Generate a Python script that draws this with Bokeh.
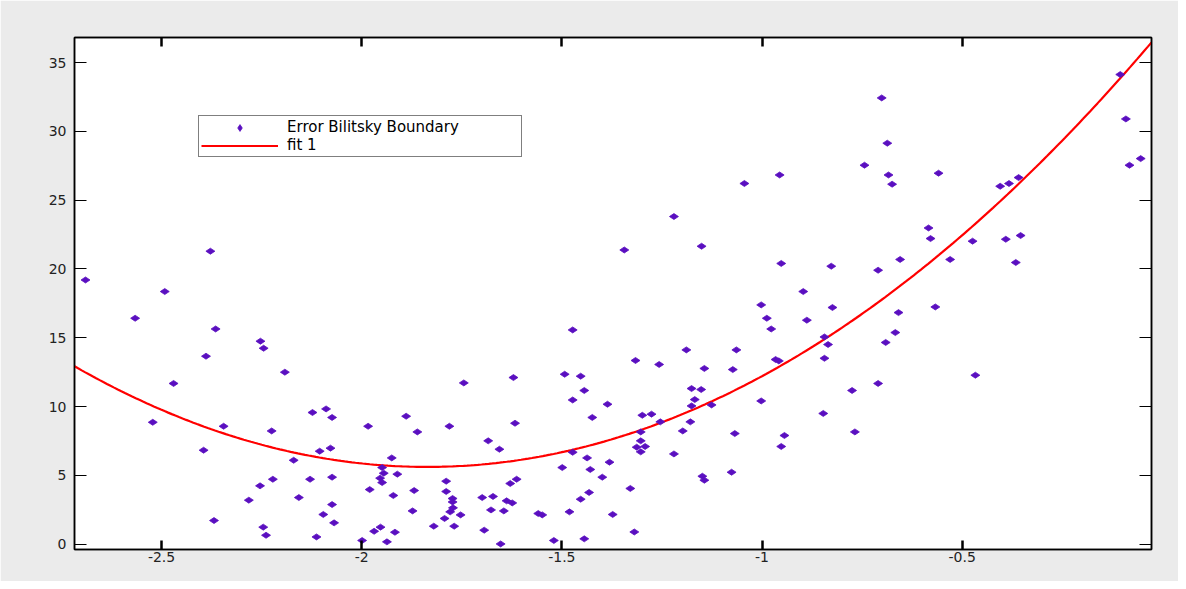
import numpy as np
from bokeh.plotting import figure
from bokeh.models import (Range1d, FixedTicker, LinearAxis, Legend, LegendItem,
                          CustomLabelingPolicy)
from bokeh.embed import file_html
from bokeh.resources import INLINE

# ---- data ----
err_x = [
    -2.690, -2.378, -2.492, -2.566, -2.365, -2.253, -2.245, -2.389, -2.192, -2.470,
    -2.089, -2.123, -2.074, -2.522, -2.345, -2.225, -2.395, -2.105, -2.078, -2.170,
    -2.222, -2.129, -2.074, -2.254, -2.157, -2.282, -2.074, -2.096, -2.069, -2.369,
    -2.246, -2.239, -2.113,
    -1.473, -1.493, -1.453, -1.621, -1.745, -1.444, -1.473, -1.386, -1.889, -1.424,
    -1.984, -1.781, -1.617, -1.861, -1.684, -1.656, -1.473, -1.925, -1.437, -1.381,
    -1.949, -1.499, -1.429, -1.945, -1.911, -1.954, -1.949, -1.613, -1.629, -1.399,
    -1.789, -1.980, -1.869, -1.789, -1.432, -1.921, -1.773, -1.773, -1.699, -1.672,
    -1.453, -1.638, -1.624, -1.772, -1.873, -1.779, -1.677, -1.645, -1.481, -1.753,
    -1.559, -1.549, -1.793, -1.820, -1.769, -1.953, -1.969, -1.917, -1.694, -1.937,
    -1.999, -1.653, -1.520, -1.444,
    -1.344, -0.952, -0.827, -0.710, -0.897, -1.002, -0.824, -0.988, -0.888, -0.977,
    -0.844, -0.835, -1.189, -1.064, -1.316, -1.257, -0.844, -0.966, -0.958, -1.144,
    -1.073, -1.176, -1.152, -0.775, -1.002, -1.168, -1.176, -1.126, -1.299, -1.276,
    -0.847, -1.254, -1.179, -1.303, -1.198, -1.068, -0.768, -0.944, -1.303, -1.313,
    -1.292, -1.303, -0.952, -1.220, -1.076, -1.149, -1.144, -1.329, -1.373, -1.319,
    -0.710,
    -0.655, -0.530, -0.366, -0.567, -0.659, -0.667, -0.691, -0.467,
    -0.701, -0.687, -0.684, -0.675, -0.559, -0.405, -0.383, -0.359, -0.584, -0.579,
    -0.474, -0.391, -0.354, -0.105, -0.091, -0.082, -0.054,
    -0.744, -0.956, -1.044, -1.220, -1.151,
]
err_y = [
    19.20, 21.29, 18.36, 16.42, 15.64, 14.75, 14.24, 13.66, 12.50, 11.68,
    9.83, 9.57, 9.21, 8.86, 8.57, 8.23, 6.83, 6.76, 6.98, 6.10,
    4.72, 4.72, 4.87, 4.24, 3.39, 3.20, 2.88, 2.16, 1.55, 1.72,
    1.24, 0.65, 0.53,
    15.57, 12.35, 12.21, 12.11, 11.72, 11.17, 10.48, 10.17, 9.30, 9.21,
    8.57, 8.57, 8.79, 8.16, 7.51, 6.90, 6.68, 6.27, 6.27, 5.96,
    5.57, 5.57, 5.43, 5.16, 5.09, 4.80, 4.48, 4.72, 4.41, 4.87,
    4.58, 3.97, 3.90, 3.83, 3.76, 3.54, 3.32, 3.07, 3.39, 3.47,
    3.27, 3.15, 3.00, 2.64, 2.42, 2.35, 2.49, 2.42, 2.35, 2.13,
    2.23, 2.13, 1.87, 1.31, 1.31, 1.24, 0.94, 0.87, 1.02, 0.17,
    0.27, 0.02, 0.27, 0.39,
    21.38, 20.40, 20.20, 19.91, 18.36, 17.39, 17.20, 16.42, 16.28, 15.64,
    15.06, 14.51, 14.12, 14.12, 13.35, 13.06, 13.51, 13.42, 13.32, 12.77,
    12.69, 11.31, 11.24, 11.17, 10.41, 10.51, 10.05, 10.12, 9.37, 9.45,
    9.50, 8.89, 8.89, 8.16, 8.23, 8.04, 8.16, 7.90, 7.51, 7.05,
    7.10, 6.71, 7.10, 6.56, 5.23, 4.94, 4.65, 4.05, 2.16, 0.89,
    11.68,
    20.69, 20.69, 20.47, 17.24, 16.83, 15.38, 14.66, 12.28,
    32.43, 29.14, 26.83, 26.16, 26.96, 26.01, 26.21, 26.64, 22.98, 22.21,
    22.02, 22.16, 22.43, 34.13, 30.90, 27.54, 28.02,
    27.54, 26.83, 26.21, 23.81, 21.65,
]
fit_coef = [9.42, 34.60, 37.39]          # fit 1: p1*x^2 + p2*x + p3
x_limits = [-2.7175, -0.027]
y_limits = [-0.385, 36.82]
x_ticks = [-2.5, -2, -1.5, -1, -0.5]
x_tick_labels = ["-2.5", "-2", "-1.5", "-1", "-0.5"]
y_ticks = [0, 5, 10, 15, 20, 25, 30, 35]
y_tick_labels = ["0", "5", "10", "15", "20", "25", "30", "35"]
series_names = ["Error Bilitsky Boundary", "fit 1"]

fit_x = np.linspace(x_limits[0], x_limits[1], 300)
fit_y = np.polyval(fit_coef, fit_x)

FONT = "DejaVu Sans"

p = figure(frame_width=1077, frame_height=512,
           x_range=Range1d(*x_limits), y_range=Range1d(*y_limits),
           output_backend="svg", toolbar_location=None,
           min_border_left=74, min_border_top=37, min_border_right=27, min_border_bottom=32)
p.background_fill_color = "white"
p.border_fill_color = "#ebebeb"
p.outline_line_color = "black"
p.outline_line_width = 1.5
p.xgrid.visible = False
p.ygrid.visible = False

fitline = p.line(fit_x, fit_y, line_color="#ff0000", line_width=2.2)
sc = p.scatter(err_x, err_y, marker="diamond", size=9, angle=np.pi / 2,
               fill_color="#5a0fc0", line_color="#5a0fc0", line_width=0.8)


def style_axis(ax, ticks, labels, tick_len, tick_w, show_labels, standoff):
    ax.ticker = FixedTicker(ticks=ticks)
    ax.major_tick_in = tick_len
    ax.major_tick_out = 0
    ax.major_tick_line_width = tick_w
    ax.major_tick_line_color = "black"
    ax.minor_tick_line_color = None
    ax.axis_line_color = "black"
    ax.axis_line_width = 1.5
    ax.major_label_standoff = standoff
    ax.major_label_text_font = FONT
    ax.major_label_text_color = "#222222"
    ax.major_label_text_font_size = "14px"
    if show_labels:
        ax.major_label_overrides = dict(zip(ticks, labels))
    else:
        ax.major_label_policy = CustomLabelingPolicy(code="return []")


style_axis(p.xaxis[0], x_ticks, x_tick_labels, 9, 2.5, True, 2)
style_axis(p.yaxis[0], y_ticks, y_tick_labels, 12, 1.2, True, 8)

top_ax = LinearAxis()
style_axis(top_ax, x_ticks, x_tick_labels, 9, 2.5, False, 0)
p.add_layout(top_ax, "above")
right_ax = LinearAxis()
style_axis(right_ax, y_ticks, y_tick_labels, 12, 1.2, False, 0)
p.add_layout(right_ax, "right")

legend = Legend(items=[LegendItem(label=series_names[0], renderers=[sc]),
                       LegendItem(label=series_names[1], renderers=[fitline])],
                location=(124, 392), margin=0, padding=2, spacing=0,
                glyph_width=77, glyph_height=17, label_height=17, label_width=232,
                label_standoff=9, label_text_font=FONT, label_text_font_size="15px",
                label_text_color="black", border_line_color="black", border_line_width=1,
                background_fill_color="white", background_fill_alpha=1.0)
p.add_layout(legend)

open("out.html", "w").write(file_html(p, INLINE))
